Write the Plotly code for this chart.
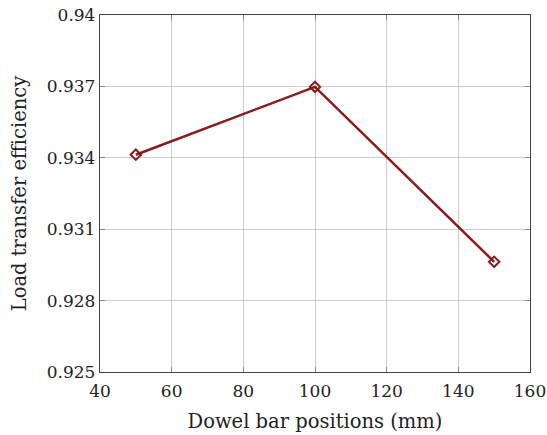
import plotly.graph_objects as go

# Dowel bar position vs. load transfer efficiency
positions_mm = [50, 100, 150]
efficiency = [0.93413, 0.93698, 0.92963]

x_ticks = [40, 60, 80, 100, 120, 140, 160]
y_ticks = [0.925, 0.928, 0.931, 0.934, 0.937, 0.94]
y_tick_text = ["0.925", "0.928", "0.931", "0.934", "0.937", "0.94"]

line_color = "#8b1a1a"
font_family = "DejaVu Serif"

fig = go.Figure(
    go.Scatter(
        x=positions_mm,
        y=efficiency,
        mode="lines+markers",
        line=dict(color=line_color, width=2.5),
        marker=dict(symbol="diamond-open", size=8, color=line_color,
                    line=dict(width=2, color=line_color)),
        showlegend=False,
    )
)

axis_common = dict(
    showgrid=True,
    gridcolor="#cccccc",
    gridwidth=1,
    showline=True,
    linecolor="#444444",
    linewidth=1.3,
    mirror="ticks",
    ticks="inside",
    ticklen=5,
    tickcolor="#888888",
    zeroline=False,
    automargin=False,
    tickfont=dict(family=font_family, size=17, color="#222222"),
)

fig.update_layout(
    width=547,
    height=435,
    margin=dict(l=99.5, r=17, t=15, b=63),
    paper_bgcolor="white",
    plot_bgcolor="white",
    font=dict(family=font_family, color="#222222"),
    xaxis=dict(
        range=[40, 160],
        tickvals=x_ticks,
        ticklabelstandoff=3,
        title=dict(text="Dowel bar positions (mm)", font=dict(size=19.5), standoff=14),
        **axis_common,
    ),
    yaxis=dict(
        range=[0.925, 0.94],
        tickvals=y_ticks,
        ticktext=y_tick_text,
        title=dict(text="Load transfer efficiency", font=dict(size=19.5), standoff=14),
        **axis_common,
    ),
)

fig.write_html("out.html")
